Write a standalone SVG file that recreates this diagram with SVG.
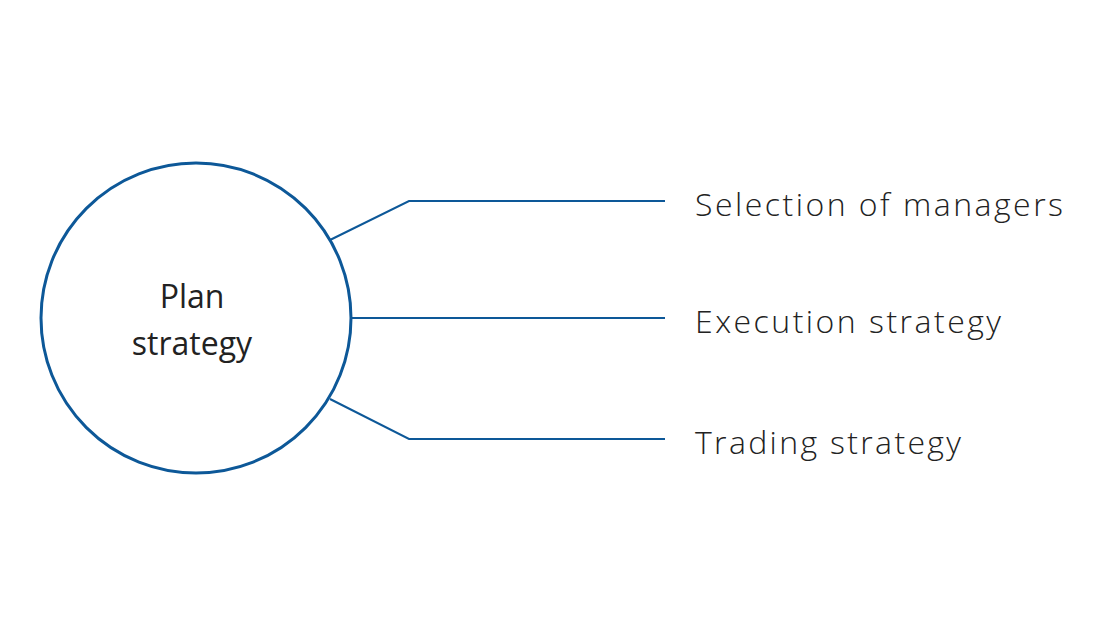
<svg xmlns="http://www.w3.org/2000/svg" width="1110" height="644" viewBox="0 0 1110 644">
<style>
.c{fill:none;stroke:#0d5898;stroke-width:3}
.l{fill:none;stroke:#0d5898;stroke-width:2}
text{font-family:"Open Sans","Liberation Sans",sans-serif;font-size:32px;fill:#222}
.lab{font-weight:300}
</style>
<rect width="1110" height="644" fill="#fff"/>
<g id="plan">
<circle class="c" cx="196" cy="318" r="155"/>
<text x="192" y="308" text-anchor="middle">Plan</text>
<text x="192" y="355" text-anchor="middle">strategy</text>
</g>
<g id="connectors">
<polyline class="l" points="330,240 409,201 665,201"/>
<line class="l" x1="351" y1="318" x2="665" y2="318"/>
<polyline class="l" points="330,399 409,439 665,439"/>
</g>
<g id="managers"><text class="lab" x="695" y="216" textLength="368">Selection of managers</text></g>
<g id="execution"><text class="lab" x="695" y="333" textLength="306">Execution strategy</text></g>
<g id="trading"><text class="lab" x="695" y="454" textLength="266">Trading strategy</text></g>
</svg>
